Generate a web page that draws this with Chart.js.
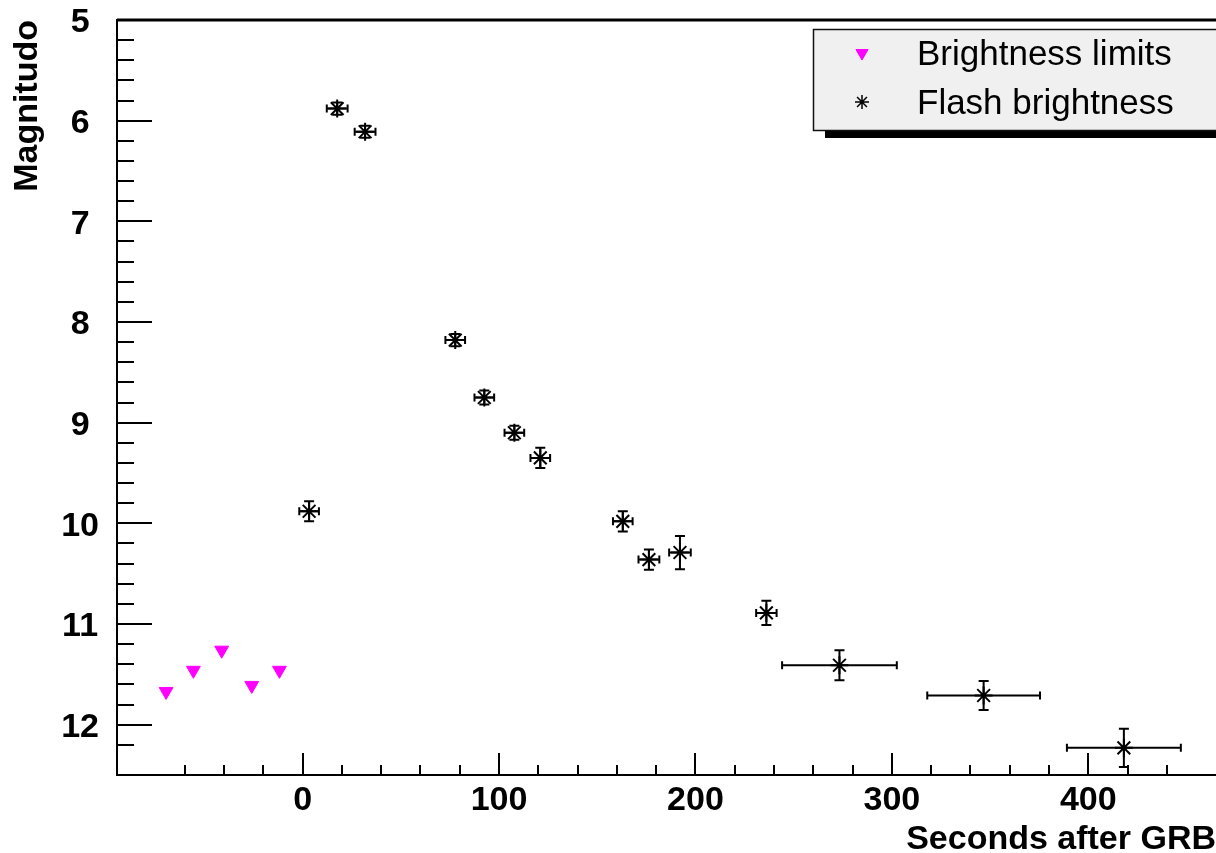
<!DOCTYPE html>
<html>
<head>
<meta charset="utf-8">
<title>Magnitudo x Seconds after GRB</title>
<script src="https://cdn.jsdelivr.net/npm/chart.js@4.4.1/dist/chart.umd.min.js"></script>
<style>
  html, body { margin: 0; padding: 0; background: #fff; overflow: hidden; }
  #wrap { width: 1216px; height: 853px; }
</style>
</head>
<body>
<div id="wrap"><canvas id="grafico"></canvas></div>
<script>
  // Limites de brilho (triângulos magenta)
  const tempoLimites = [-69.5, -55.6, -41.2, -25.9, -11.8];
  const magLimites = [11.67, 11.46, 11.26, 11.61, 11.46];

  // Brilho do flash (asteriscos com barras de erro)
  const tempoFlash = [3.3, 17.6, 31.8, 77.7, 92.5, 107.8, 121.0, 163.0, 176.3, 192.1, 236.1, 273.3, 346.7, 418.1];
  const magFlash = [9.88, 5.88, 6.11, 8.18, 8.75, 9.10, 9.35, 9.98, 10.36, 10.29, 10.89, 11.41, 11.71, 12.23];
  const erroTempo = [5, 5.3, 5.3, 5, 5, 5, 5, 5, 5.3, 5.5, 5.2, 29.2, 28.7, 29];
  const erroMag = [0.1, 0.06, 0.06, 0.06, 0.07, 0.07, 0.1, 0.1, 0.1, 0.165, 0.12, 0.15, 0.145, 0.19];

  // Textos e limites dos eixos
  const rotulos = ['Brightness limits', 'Flash brightness'];
  const tituloX = 'Seconds after GRB';
  const tituloY = 'Magnitudo';
  const limitesX = [-94.5, 465];
  const limitesY = [5, 12.5];
  const passoX = 20;    // marcas menores
  const principalX = 100;
  const passoY = 0.2;

  const fonte = '"Liberation Sans", Arial, sans-serif';
  Chart.defaults.font.family = fonte;

  function multiplo(v, passo) {
    return Math.abs(v / passo - Math.round(v / passo)) < 1e-6;
  }

  // Barras de erro desenhadas antes dos marcadores
  const pluginBarrasErro = {
    id: 'barrasErro',
    beforeDatasetsDraw(chart) {
      const { ctx, chartArea: a, scales: { x, y } } = chart;
      ctx.save();
      ctx.beginPath();
      ctx.rect(a.left, a.top, a.width, a.height);
      ctx.clip();
      ctx.strokeStyle = '#000';
      ctx.lineWidth = 2;
      tempoFlash.forEach((t, i) => {
        const px = x.getPixelForValue(t);
        const py = y.getPixelForValue(magFlash[i]);
        const x1 = x.getPixelForValue(t - erroTempo[i]);
        const x2 = x.getPixelForValue(t + erroTempo[i]);
        const y1 = y.getPixelForValue(magFlash[i] - erroMag[i]);
        const y2 = y.getPixelForValue(magFlash[i] + erroMag[i]);
        ctx.beginPath();
        ctx.moveTo(x1, py); ctx.lineTo(x2, py);
        ctx.moveTo(x1, py - 4); ctx.lineTo(x1, py + 4);
        ctx.moveTo(x2, py - 4); ctx.lineTo(x2, py + 4);
        ctx.moveTo(px, y1); ctx.lineTo(px, y2);
        ctx.moveTo(px - 5, y1); ctx.lineTo(px + 5, y1);
        ctx.moveTo(px - 5, y2); ctx.lineTo(px + 5, y2);
        ctx.stroke();
      });
      ctx.restore();
    }
  };

  // Marcas para dentro (estilo ROOT), linha superior da moldura e título do eixo Y
  const pluginMarcas = {
    id: 'marcas',
    afterDraw(chart) {
      const { ctx, chartArea: a, scales: { x, y } } = chart;
      ctx.save();
      ctx.strokeStyle = '#000';
      ctx.lineWidth = 2;
      ctx.beginPath();
      x.ticks.forEach(t => {
        const px = Math.round(x.getPixelForValue(t.value));
        const len = multiplo(t.value, principalX) ? 22 : 10;
        ctx.moveTo(px, a.bottom);
        ctx.lineTo(px, a.bottom - len);
      });
      y.ticks.forEach(t => {
        const py = Math.round(y.getPixelForValue(t.value));
        const len = multiplo(t.value, 1) ? 35 : 17;
        ctx.moveTo(a.left, py);
        ctx.lineTo(a.left + len, py);
      });
      ctx.stroke();
      ctx.lineWidth = 3;
      ctx.beginPath();
      ctx.moveTo(a.left, a.top);
      ctx.lineTo(a.right, a.top);
      ctx.stroke();

      // título vertical, terminando no topo do eixo
      ctx.translate(28, a.top);
      ctx.rotate(-Math.PI / 2);
      ctx.fillStyle = '#000';
      ctx.font = 'bold 34px ' + fonte;
      ctx.textAlign = 'right';
      ctx.textBaseline = 'middle';
      ctx.fillText(tituloY, 0, 0);
      ctx.restore();
    }
  };

  // Legenda em caixa cinza com sombra
  const pluginLegenda = {
    id: 'legendaCaixa',
    afterDraw(chart) {
      const ctx = chart.ctx;
      const caixa = { x: 813, y: 29, w: 420, h: 101 };
      ctx.save();
      ctx.fillStyle = '#000';
      ctx.fillRect(caixa.x + 12, caixa.y + 12, caixa.w, caixa.h - 4);
      ctx.fillStyle = '#f0f0f0';
      ctx.fillRect(caixa.x, caixa.y, caixa.w, caixa.h);
      ctx.strokeStyle = '#111';
      ctx.lineWidth = 1.5;
      ctx.strokeRect(caixa.x + 0.5, caixa.y + 0.5, caixa.w, caixa.h);

      chart.data.datasets.forEach((ds, i) => {
        const cy = caixa.y + 24 + i * 49;
        ctx.fillStyle = ds.pointBackgroundColor;
        ctx.strokeStyle = ds.pointBorderColor;
        ctx.lineWidth = i === 0 ? 1 : 1.5;
        Chart.helpers.drawPoint(ctx, {
          pointStyle: ds.pointStyle,
          rotation: ds.pointRotation || 0,
          radius: 7,
          borderWidth: ctx.lineWidth
        }, 862, cy);
        ctx.fillStyle = '#000';
        ctx.font = '35px ' + fonte;
        ctx.textBaseline = 'alphabetic';
        ctx.fillText(ds.label, 917, cy + 12);
      });
      ctx.restore();
    }
  };

  new Chart(document.getElementById('grafico'), {
    type: 'scatter',
    data: {
      datasets: [
        {
          label: rotulos[0],
          data: tempoLimites.map((t, i) => ({ x: t, y: magLimites[i] })),
          pointStyle: 'triangle',
          pointRotation: 180,
          pointRadius: 8,
          pointBackgroundColor: '#ff00ff',
          pointBorderColor: '#ff00ff',
          pointBorderWidth: 1
        },
        {
          label: rotulos[1],
          data: tempoFlash.map((t, i) => ({ x: t, y: magFlash[i] })),
          pointStyle: 'star',
          pointRadius: 9,
          pointBackgroundColor: '#000',
          pointBorderColor: '#000',
          pointBorderWidth: 2
        }
      ]
    },
    options: {
      responsive: true,
      maintainAspectRatio: false,
      animation: false,
      layout: { autoPadding: false, padding: { top: 20, right: 0, bottom: 0, left: 0 } },
      plugins: {
        legend: { display: false },
        tooltip: { enabled: false }
      },
      scales: {
        x: {
          type: 'linear',
          min: limitesX[0],
          max: limitesX[1],
          grid: { display: false, drawTicks: false },
          border: { display: true, color: '#000', width: 2 },
          ticks: {
            stepSize: passoX,
            autoSkip: false,
            maxRotation: 0,
            padding: 5,
            color: '#000',
            font: { size: 34, weight: 'bold' },
            callback: v => multiplo(v, principalX) ? Math.round(v) : ''
          },
          title: {
            display: true,
            text: tituloX,
            align: 'end',
            color: '#000',
            font: { size: 34, weight: 'bold', lineHeight: 1 },
            padding: { top: 0, bottom: -4 }
          },
          afterBuildTicks: s => { s.ticks = s.ticks.filter(t => multiplo(t.value, passoX)); },
          afterFit: s => {
            s.height = 78;
            s.paddingLeft = 0;
            s.paddingRight = 0;
          }
        },
        y: {
          type: 'linear',
          reverse: true,
          min: limitesY[0],
          max: limitesY[1],
          grid: { display: false, drawTicks: false },
          border: { display: true, color: '#000', width: 2 },
          ticks: {
            stepSize: passoY,
            autoSkip: false,
            crossAlign: 'center',
            padding: 18,
            labelOffset: 3,
            color: '#000',
            font: { size: 34, weight: 'bold' },
            callback: v => multiplo(v, 1) ? Math.round(v) : ''
          },
          title: { display: false },
          afterBuildTicks: s => { s.ticks = s.ticks.filter(t => multiplo(t.value, passoY)); },
          afterFit: s => {
            s.width = 117;
            s.paddingTop = 0;
            s.paddingBottom = 0;
          }
        }
      }
    },
    plugins: [pluginBarrasErro, pluginMarcas, pluginLegenda]
  });
</script>
</body>
</html>
